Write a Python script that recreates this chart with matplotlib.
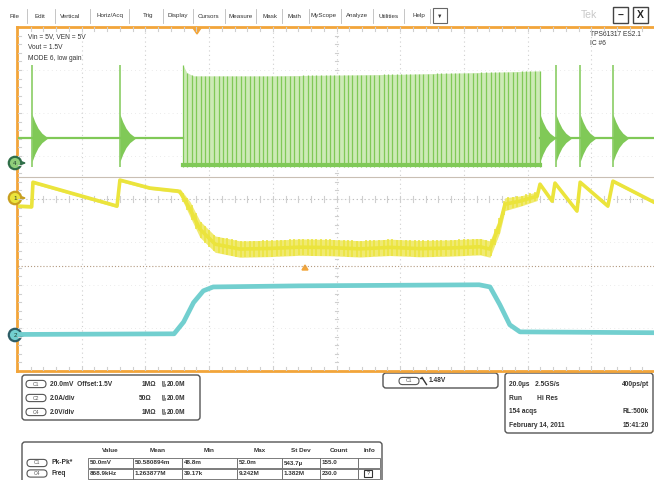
import numpy as np
import matplotlib
matplotlib.use("Agg")
import matplotlib.pyplot as plt
from matplotlib.patches import FancyBboxPatch, Rectangle, Circle, Polygon

plt.rcParams['font.family'] = ['Liberation Sans', 'DejaVu Sans']

# ---------------- acquisition data ----------------
# time axis: 20 us/div, 10 divisions
T_PER_DIV = 20.0

# C4 (switch node, 2 V/div)
c4_idle_v = 1.16
c4_spike_times = [4.4, 32.0, 168.9, 176.5, 186.8]       # isolated PFM pulses, us
c4_spike_top = 4.55
c4_spike_bottom = -0.2
c4_ring_dt = [0.0, 0.9, 1.9, 3.1, 5.0]                  # ringing envelope after each pulse, us
c4_ring_amp = [1.10, 0.75, 0.45, 0.22, 0.0]              # V
c4_burst_times = [51.8, 53.1, 54.5, 55.9, 57.4, 58.8, 60.1, 61.5, 63.0, 64.4,
                  65.7, 67.1, 68.6, 70.0, 71.3, 72.7, 74.2, 75.6, 76.9, 78.3,
                  79.8, 81.2, 82.5, 83.9, 85.4, 86.8, 88.1, 89.5, 91.0, 92.4,
                  93.7, 95.1, 96.6, 98.0, 99.3, 100.7, 102.2, 103.6, 104.9, 106.3,
                  107.8, 109.2, 110.5, 111.9, 113.4, 114.8, 116.1, 117.5, 119.0, 120.4,
                  121.7, 123.1, 124.6, 126.0, 127.3, 128.7, 130.2, 131.6, 132.9, 134.3,
                  135.8, 137.2, 138.5, 139.9, 141.4, 142.8, 144.1, 145.5, 147.0, 148.4,
                  149.7, 151.1, 152.6, 154.0, 155.3, 156.7, 158.2, 159.6, 160.9, 162.3, 163.9]
c4_burst_env_t = [51.8, 53.0, 55.0, 80.0, 120.0, 150.0, 163.9]
c4_burst_env_v = [4.55, 4.20, 4.05, 4.05, 4.12, 4.22, 4.28]
c4_burst_low = -0.08

# C1 (output ripple, 20 mV/div, offset 1.5 V)
c1_t = [0.0, 4.3, 4.7, 31.1, 32.0, 41.4, 50.2, 50.9, 54.0, 57.1, 61.9, 69.7,
        79.1, 88.5, 98.0, 107.4, 116.8, 126.2, 135.6, 145.1, 148.2, 151.3, 152.9,
        157.6, 163.0, 163.9, 167.7, 168.6, 175.5, 176.5, 185.2, 186.8, 199.7]
c1_mv = [-3.7, -4.0, 7.4, -3.7, 8.4, 4.7, 3.3, 2.8, -5.1, -14.4, -21.4, -23.7,
         -23.4, -22.8, -23.0, -23.6, -22.9, -23.5, -23.2, -22.6, -23.7, -12.1, -2.8,
         -1.4, 0.9, 6.5, -1.4, 7.0, -6.0, 7.4, -3.7, 7.9, -1.9]
c1_ripple = [0.7, 0.7, 0.7, 0.7, 0.7, 0.7, 0.8, 1.5, 3.5, 3.8, 3.8, 3.8,
             3.8, 3.8, 3.8, 3.8, 3.8, 3.8, 3.8, 3.8, 3.8, 3.8, 3.0,
             2.4, 2.0, 0.7, 0.7, 0.7, 0.7, 0.7, 0.7, 0.7, 0.7]

# C2 (inductor current, 2 A/div)
c2_t = [0.0, 49.0, 52.0, 55.1, 58.2, 61.3, 88.2, 144.8, 148.2, 151.3, 154.4, 157.6, 199.7]
c2_a = [0.02, 0.05, 0.60, 1.50, 2.05, 2.23, 2.28, 2.33, 2.23, 1.40, 0.47, 0.14, 0.10]

# channel scales and screen positions (divisions from centre)
c4_scale, c4_pos = 2.0, 0.84
c1_scale, c1_pos = 20.0, 0.02
c2_scale, c2_pos = 2.0, -3.16
trig_line_div = -1.55
sep_line_div = 0.51

# ---------------- readouts ----------------
menu_items = ["File", "Edit", "Vertical", "Horiz/Acq", "Trig", "Display", "Cursors",
              "Measure", "Mask", "Math", "MyScope", "Analyze", "Utilities", "Help"]
menu_x = [14, 40, 70, 110, 148, 178, 208, 241, 270, 294, 324, 357, 389, 419]

notes_left = ["Vin = 5V, VEN = 5V", "Vout = 1.5V", "MODE 6, low gain"]
notes_right = ["TPS61317 ES2.1", "IC #6"]

ch_rows = [("C1", "20.0mV  Offset:1.5V", "1MΩ"),
           ("C2", "2.0A/div", "50Ω"),
           ("C4", "2.0V/div", "1MΩ")]
bw_label = "20.0M"

trig_src, trig_level = "C1", "1.48V"
tb_rows = [("20.0µs   2.5GS/s", "400ps/pt"),
           ("Run        Hi Res", ""),
           ("154 acqs", "RL:500k"),
           ("February 14, 2011", "15:41:20")]

meas_header = ["Value", "Mean", "Min", "Max", "St Dev", "Count", "Info"]
meas_rows = [("C1", "Pk-Pk*", ["50.0mV", "50.580894m", "48.8m", "52.0m", "543.7µ", "155.0", ""]),
             ("C4", "Freq", ["868.9kHz", "1.263877M", "39.17k", "9.242M", "1.382M", "230.0", ""])]

# ---------------- colours ----------------
GREEN = "#80c957"
GREEN_FILL = "#cdeab6"
YELLOW = "#ebe43c"
YELLOW_FILL = "#f0ea72"
CYAN = "#72cfcf"
ORANGE = "#f2a53a"
GRID = "#cfcfcf"
TXT = "#333333"

W, H = 654, 480
fig = plt.figure(figsize=(W / 100, H / 100), dpi=100)
fig.patch.set_facecolor("white")
ui = fig.add_axes([0, 0, 1, 1])
ui.set_xlim(0, W)
ui.set_ylim(H, 0)
ui.axis("off")

# graticule area
GX0, GX1, GY0, GY1 = 18, 655, 27, 371
ax = fig.add_axes([GX0 / W, 1 - GY1 / H, (GX1 - GX0) / W, (GY1 - GY0) / H])
ax.set_xlim(0, 10 * T_PER_DIV)
ax.set_ylim(-4, 4)
ax.axis("off")

# grid: vertical dotted division lines, ticked centre cross
for k in range(1, 10):
    ax.axvline(k * T_PER_DIV, color=GRID, lw=0.8, ls=(0, (1, 3)), zorder=0)
for k in range(-3, 4):
    ax.axhline(k, color="#e4e4e4", lw=0.6, ls=(0, (1, 4)), zorder=0)
ax.axhline(0, color="#bdbdbd", lw=0.8, ls=(0, (1, 2.5)), zorder=0)
for k in range(1, 50):
    t = k * T_PER_DIV / 5
    ax.plot([t, t], [-0.06, 0.06], color=GRID, lw=0.8, zorder=0)
    ax.plot([t, t], [-4, -3.9], color=GRID, lw=0.8, zorder=0)
    ax.plot([t, t], [3.9, 4], color=GRID, lw=0.8, zorder=0)
for k in range(-19, 20):
    y = k / 5
    ax.plot([100 - 0.6, 100 + 0.6], [y, y], color=GRID, lw=0.8, zorder=0)
    ax.plot([0, 1.0], [y, y], color=GRID, lw=0.8, zorder=0)

# trigger level line and channel separator line
ax.axhline(trig_line_div, color="#b39a80", lw=0.8, ls=(0, (1, 1.8)), zorder=0.5)
ax.axhline(sep_line_div, color="#c9bfb4", lw=0.8, zorder=0.5)


def c4y(v):
    return c4_pos + np.asarray(v) / c4_scale


def c1y(mv):
    return c1_pos + np.asarray(mv) / c1_scale


def c2y(a):
    return c2_pos + np.asarray(a) / c2_scale


# ---- C4 switch node ----
ax.plot([0, c4_burst_times[0]], [c4y(c4_idle_v)] * 2, color=GREEN, lw=1.6, zorder=3)
ax.plot([c4_burst_times[-1], 200], [c4y(c4_idle_v)] * 2, color=GREEN, lw=1.6, zorder=3)
ax.fill_between(c4_burst_env_t, c4y(c4_burst_low), c4y(c4_burst_env_v),
                color=GREEN_FILL, lw=0, zorder=2)
ax.vlines(c4_burst_times, c4y(c4_burst_low - 0.1),
          c4y(np.interp(c4_burst_times, c4_burst_env_t, c4_burst_env_v)),
          color=GREEN, lw=0.9, zorder=3)
ax.plot([c4_burst_times[0], c4_burst_times[-1]], [c4y(c4_burst_low)] * 2, color=GREEN, lw=3.0, zorder=3)
ax.vlines(c4_spike_times, c4y(c4_spike_bottom), c4y(c4_spike_top), color=GREEN, lw=1.1, zorder=3)
for ts in c4_spike_times + [c4_burst_times[-1]]:
    tt = ts + np.asarray(c4_ring_dt)
    amp = np.asarray(c4_ring_amp)
    ax.fill_between(tt, c4y(c4_idle_v - amp), c4y(c4_idle_v + amp), color=GREEN, lw=0, zorder=3)

# ---- C1 output voltage ----
c1_mid = np.asarray(c1_mv)
c1_r = np.asarray(c1_ripple)
ax.fill_between(c1_t, c1y(c1_mid - c1_r), c1y(c1_mid + c1_r), color=YELLOW_FILL, lw=0, zorder=4)
# switching ripple texture inside the band
burst = np.asarray(c4_burst_times)
b_mid = np.interp(burst, c1_t, c1_mid)
b_r = np.interp(burst, c1_t, c1_r)
ax.vlines(burst, c1y(b_mid - b_r), c1y(b_mid + b_r), color=YELLOW, lw=1.1, zorder=4)
ax.plot(c1_t, c1y(c1_mid), color=YELLOW, lw=2.6, zorder=4, solid_joinstyle="round")

# ---- C2 inductor current ----
ax.plot(c2_t, c2y(c2_a), color=CYAN, lw=3.4, zorder=4, solid_capstyle="round")

# ---------------- frame and markers ----------------
ui.plot([17, 17], [27, 371], color=ORANGE, lw=2.0)
ui.plot([17, 654], [27, 27], color=ORANGE, lw=2.0)
ui.plot([17, 654], [371, 371], color=ORANGE, lw=2.0)
ui.add_patch(Polygon([[193, 28], [201, 28], [197, 34]], closed=True, color=ORANGE, zorder=5))
ui.add_patch(Polygon([[302, 270], [308, 270], [305, 265]], closed=True, color=ORANGE, zorder=5))

for (y, fc, ec, lab) in [(163, "#8fcf7a", "#2f6e48", "4"), (198, YELLOW, "#c8a020", "1"),
                         (335, CYAN, "#2d5d66", "2")]:
    ui.add_patch(Polygon([[18, y - 2.5], [25, y], [18, y + 2.5]], closed=True, color=ec, zorder=5))
    ui.add_patch(Circle((15, y), 6.2, facecolor=fc, edgecolor=ec, lw=1.6, zorder=6))
    ui.text(15, y + 0.5, lab, fontsize=4.5, ha="center", va="center", color="#204030", zorder=7)

# notes inside the graticule
for i, s in enumerate(notes_left):
    ui.text(28, 37 + i * 10.5, s, fontsize=4.8, color=TXT, va="center")
for i, s in enumerate(notes_right):
    ui.text(590, 35 + i * 8.5, s, fontsize=4.8, color=TXT, va="center")

# ---------------- menu bar ----------------
for name, x in zip(menu_items, menu_x):
    ui.text(x, 16, name, fontsize=4.5, ha="center", va="center", color=TXT)
for a, b in zip(menu_x[:-1], menu_x[1:]):
    ui.plot([(a + b) / 2] * 2, [9, 23], color="#bbbbbb", lw=0.6)
ui.plot([430, 430], [9, 23], color="#bbbbbb", lw=0.6)
ui.add_patch(Rectangle((433, 8), 14, 15, facecolor="white", edgecolor="#666666", lw=0.8))
ui.text(440, 16, "▼", fontsize=4, ha="center", va="center", color="#333333")
ui.text(589, 15, "Tek", fontsize=7.5, ha="center", va="center", color="#c8c8c8")
for bx, sym in [(613, "–"), (633, "X")]:
    ui.add_patch(Rectangle((bx, 7), 15, 16, facecolor="white", edgecolor="#444444", lw=1.0))
    ui.text(bx + 7.5, 15.5, sym, fontsize=7.5, ha="center", va="center", color="#222222",
            fontweight="bold")


def chip(x, y, lab, w=20):
    ui.add_patch(FancyBboxPatch((x, y - 3.6), w, 7.2, boxstyle="round,pad=0,rounding_size=3.6",
                                facecolor="white", edgecolor="#555555", lw=0.8))
    ui.text(x + w / 2, y, lab, fontsize=3.6, ha="center", va="center", color="#555555")


# ---------------- channel readout box ----------------
ui.add_patch(FancyBboxPatch((22, 375), 178, 45, boxstyle="round,pad=0,rounding_size=3",
                            facecolor="white", edgecolor="#555555", lw=1.0))
for i, (ch, sc, imp) in enumerate(ch_rows):
    y = 384 + i * 14
    chip(26, y, ch)
    ui.text(50, y, sc, fontsize=4.8, va="center", color=TXT, fontweight="bold")
    ui.text(156 if imp == "1MΩ" else 151, y, imp, fontsize=4.8, va="center", ha="right",
            color=TXT, fontweight="bold")
    ui.text(162, y - 1.5, "B", fontsize=3.2, va="center", color=TXT, fontweight="bold")
    ui.text(162, y + 1.8, "W", fontsize=3.2, va="center", color=TXT, fontweight="bold")
    ui.text(167, y, bw_label, fontsize=4.8, va="center", color=TXT, fontweight="bold")

# ---------------- trigger readout ----------------
ui.add_patch(FancyBboxPatch((383, 373), 115, 15, boxstyle="round,pad=0,rounding_size=3",
                            facecolor="white", edgecolor="#555555", lw=1.0))
chip(399, 381, trig_src)
ui.plot([422, 426.5], [377.5, 384.5], color=TXT, lw=1.0)
ui.plot([420, 422], [377.5, 377.5], color=TXT, lw=1.0)
ui.text(429, 381, trig_level, fontsize=4.8, va="center", color=TXT, fontweight="bold")

# ---------------- timebase readout ----------------
ui.add_patch(FancyBboxPatch((505, 373), 148, 60, boxstyle="round,pad=0,rounding_size=3",
                            facecolor="white", edgecolor="#555555", lw=1.0))
for i, (lft, rgt) in enumerate(tb_rows):
    y = 385 + i * 13.4
    ui.text(509, y, lft, fontsize=4.8, va="center", color=TXT, fontweight="bold")
    if rgt:
        ui.text(649, y, rgt, fontsize=4.8, va="center", ha="right", color=TXT, fontweight="bold")

# ---------------- measurement table ----------------
ui.add_patch(FancyBboxPatch((22, 442), 360, 50, boxstyle="round,pad=0,rounding_size=3",
                            facecolor="white", edgecolor="#555555", lw=1.0))
col_edges = [88, 133, 182, 237, 282, 320, 358, 380]
for j, hd in enumerate(meas_header):
    ui.text((col_edges[j] + col_edges[j + 1]) / 2, 451, hd, fontsize=4.6, ha="center",
            va="center", color=TXT, fontweight="bold")
for i, (ch, name, vals) in enumerate(meas_rows):
    y0 = 458 + i * 10.5
    chip(27, y0 + 5, ch)
    ui.text(52, y0 + 5, name, fontsize=4.8, va="center", color=TXT, fontweight="bold")
    for j, v in enumerate(vals):
        ui.add_patch(Rectangle((col_edges[j], y0), col_edges[j + 1] - col_edges[j], 10,
                               facecolor="white", edgecolor="#666666", lw=0.6))
        if v:
            ui.text(col_edges[j] + 2, y0 + 5, v, fontsize=4.5, va="center", color=TXT,
                    fontweight="bold")
ui.add_patch(Rectangle((364, 469.5), 8, 7.5, facecolor="white", edgecolor="#333333", lw=0.8))
ui.text(368, 473.3, "?", fontsize=4, ha="center", va="center", color="#333333")

fig.savefig("out.png", dpi=100, facecolor="white")
